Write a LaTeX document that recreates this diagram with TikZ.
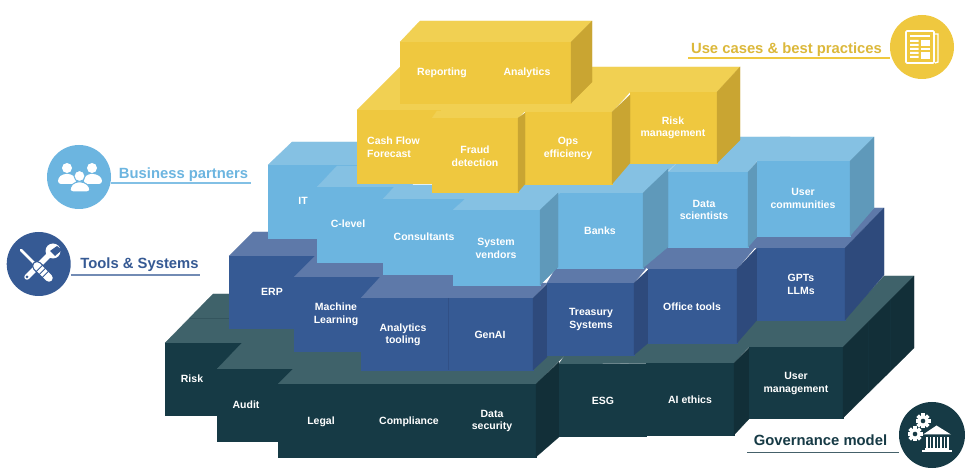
\documentclass[tikz,border=0pt]{standalone}
\usetikzlibrary{calc}
\usepackage{fontspec}
\setmainfont{Liberation Sans}
\definecolor{yf}{HTML}{EFC83F}\definecolor{yt}{HTML}{F1D052}\definecolor{ys}{HTML}{C9A532}
\definecolor{bf}{HTML}{6CB5E0}\definecolor{bt}{HTML}{85C1E3}\definecolor{bs}{HTML}{5F99BA}
\definecolor{tf}{HTML}{365A94}\definecolor{tt}{HTML}{5E79A9}\definecolor{ts}{HTML}{2E4A7C}
\definecolor{gf}{HTML}{163A45}\definecolor{gt}{HTML}{3F626A}\definecolor{gs}{HTML}{122F38}
\tikzset{
  lab/.style={text=white,font=\fontsize{10.5}{12.6}\selectfont\bfseries,align=center,inner sep=0pt},
  head/.style={font=\fontsize{14.8}{16}\selectfont\bfseries,inner sep=0pt},
  disc/.style={circle,minimum size=64pt,inner sep=0pt},
  rule/.style={line width=1.1pt},
  seam/.style={line width=.4pt},
}
% polygon helpers
\newcommand{\face}[2]{\fill[#1,draw=#1,line width=.2pt] #2 -- cycle;}
\newcommand{\front}[5]{\fill[#5,draw=#5,line width=.2pt] (#1,#2) rectangle (#3,#4);}
\newcommand{\sideface}[7]{\fill[#7,draw=#7,line width=.2pt] (#1,#2) -- (#3,#4) -- (#3,#6) -- (#1,#5) -- cycle;}
\newcommand{\gearicon}[3]{%
  \foreach \a in {0,45,...,315}{\fill[white,rotate around={\a:(#1,#2)}] (#1-1.8,#2-#3-2) rectangle (#1+1.8,#2);}
  \fill[white] (#1,#2) circle (#3);
  \fill[gf] (#1,#2) circle (#3*0.42);}
\begin{document}
\begin{tikzpicture}[x=1pt,y=-1pt]
\useasboundingbox (0,0) rectangle (970,470);
\fill[white] (0,0) rectangle (970,470);

% ---------- governance layer
\face{gt}{(165,343) -- (213,294) -- (320,294) -- (300,343)}
\draw[seam,draw=gs!25!gt] (190,318) -- (235,318);
\front{165}{343}{300}{415}{gf}
\face{gt}{(217,369) -- (242,343) -- (345,343) -- (320,369)}
\front{217}{369}{320}{441}{gf}
\face{gt}{(278,384) -- (302,360) -- (322,340) -- (570,340) -- (565,355) -- (536,384)}
\front{278}{384}{536}{457}{gf}
\sideface{536}{384}{559}{362}{457}{437}{gs}
\face{gt}{(559,364) -- (568,350) -- (650,340) -- (737,340) -- (757,318) -- (845,318) -- (884,276) -- (914,276) -- (843,347) -- (749,347) -- (734,363)}
\front{559}{364}{646}{436}{gf}
\front{646}{363}{734}{435}{gf}
\sideface{734}{363}{749}{348}{435}{419}{gs}
\front{749}{347}{843}{418}{gf}
\sideface{843}{347}{914}{276}{418}{348}{gs}
\draw[seam,draw=gs!70!gf] (868,322) -- (868,393) (890,300) -- (890,371);

% ---------- tools layer
\face{tt}{(229,256) -- (253,232) -- (330,232) -- (317,256)}
\front{229}{256}{320}{328}{tf}
\face{tt}{(294,277) -- (315,256) -- (395,256) -- (383,277)}
\front{294}{277}{383}{351}{tf}
\face{tt}{(361,298) -- (383,274) -- (460,274) -- (460,285) -- (547,283) -- (533,298)}
\front{361}{298}{533}{370}{tf}
\sideface{533}{298}{547}{284}{370}{357}{ts}
\draw[ts!60!tf,line width=.3pt] (448,298) -- (448,370);
\face{tt}{(547,283) -- (557,266) -- (648,266) -- (634,283)}
\front{547}{283}{634}{355}{tf}
\sideface{634}{283}{648}{270}{355}{343}{ts}
\face{tt}{(648,269) -- (644,266) -- (668,245) -- (757,245) -- (737,269)}
\front{648}{269}{737}{343}{tf}
\sideface{737}{269}{757}{248}{343}{320}{ts}
\face{tt}{(757,248) -- (747,248) -- (757,236) -- (775,234) -- (850,234) -- (874,208) -- (884,208) -- (845,248)}
\front{757}{248}{845}{320}{tf}
\sideface{845}{248}{884}{208}{320}{275}{ts}

% ---------- business partners layer
\face{bt}{(268,165) -- (292,142) -- (420,142) -- (400,165)}
\front{268}{165}{380}{238}{bf}
\face{bt}{(317,187) -- (337,166) -- (430,166) -- (410,187)}
\front{317}{187}{395}{262}{bf}
\face{bt}{(383,199) -- (396,185) -- (505,185) -- (470,199)}
\front{383}{199}{470}{274}{bf}
\face{bt}{(757,161) -- (780,137) -- (874,137) -- (850,161)}
\face{bt}{(668,172) -- (703,137) -- (790,137) -- (757,161) -- (748,172)}
\front{668}{172}{748}{247}{bf}
\sideface{748}{172}{757}{162}{247}{237}{bs}
\front{757}{161}{850}{236}{bf}
\sideface{850}{161}{874}{137}{236}{208}{bs}
\face{bt}{(557,193) -- (590,160) -- (680,160) -- (643,193)}
\front{557}{193}{643}{268}{bf}
\sideface{643}{193}{668}{169}{268}{247}{bs}
\face{bt}{(453,210) -- (465,199) -- (520,180) -- (575,180) -- (540,210)}
\front{453}{210}{540}{285}{bf}
\sideface{540}{210}{558}{193}{285}{267}{bs}

% ---------- use cases layer
\face{yt}{(357,110) -- (400,67) -- (740,67) -- (717,92) -- (630,92) -- (612,112) -- (432,112) -- (432,110)}
\front{630}{92}{717}{163}{yf}
\sideface{717}{92}{740}{67}{163}{140}{ys}
\front{525}{112}{612}{184}{yf}
\sideface{612}{112}{630}{95}{184}{163}{ys}
\front{357}{110}{440}{183}{yf}
\face{yt}{(432,118) -- (437,111) -- (525,111) -- (518,118)}
\front{432}{118}{518}{192}{yf}
\sideface{518}{118}{525}{113}{192}{184}{ys}
\face{yt}{(400,42) -- (420,21) -- (592,21) -- (571,42)}
\front{400}{42}{571}{103}{yf}
\sideface{571}{42}{592}{21}{103}{82}{ys}

% ---------- block labels
\node[lab] (reporting) at (442,73) {Reporting};
\node[lab] (analytics) at (527,73) {Analytics};
\node[lab,align=left,anchor=west] (cash) at (367,147) {Cash Flow\\Forecast};
\node[lab] (fraud) at (475,156.5) {Fraud\\detection};
\node[lab] (ops) at (568,148.5) {Ops\\efficiency};
\node[lab] (riskm) at (673,128) {Risk\\management};
\node[lab] (it) at (303,201) {IT};
\node[lab] (clevel) at (348,224) {C-level};
\node[lab] (consult) at (424,237) {Consultants};
\node[lab] (sysv) at (496,248.5) {System\\vendors};
\node[lab] (banks) at (600,231) {Banks};
\node[lab] (datas) at (704,210) {Data\\scientists};
\node[lab] (userc) at (803,198.5) {User\\communities};
\node[lab] (erp) at (272,292) {ERP};
\node[lab] (ml) at (336,314.5) {Machine\\Learning};
\node[lab] (atool) at (403,335) {Analytics\\tooling};
\node[lab] (genai) at (490,335) {GenAI};
\node[lab] (treas) at (591,319.5) {Treasury\\Systems};
\node[lab] (office) at (692,307) {Office tools};
\node[lab] (gpts) at (801,284.5) {GPTs\\LLMs};
\node[lab] (risk) at (192,379) {Risk};
\node[lab] (audit) at (246,405) {Audit};
\node[lab] (legal) at (321,422) {Legal};
\node[lab] (compl) at (409,422) {Compliance};
\node[lab] (datasec) at (492,421) {Data\\security};
\node[lab] (esg) at (603,400.5) {ESG};
\node[lab] (aieth) at (690,400) {AI ethics};
\node[lab] (userm) at (796,383.5) {User\\management};

% ---------- legend: business partners
\coordinate (bpend) at (251,183);
\node[disc,fill=bf] (bpdisc) at (79,177) {};
\draw[rule,draw=bf!85!white] (bpdisc.east |- bpend) -- (bpend);
\node[head,text=bf] (bptext) at (183.5,175) {Business partners};
\fill[white] (67,168) circle (5) (92,168) circle (5);
\fill[white,rounded corners=3pt] (58,184) -- (58,178) -- (63,174) -- (71,174) -- (76,178) -- (76,184) -- cycle;
\fill[white,rounded corners=3pt] (84,184) -- (84,178) -- (88,174) -- (96,174) -- (102,178) -- (102,184) -- cycle;
\fill[white,draw=bf,line width=1pt] (79.5,176) circle (5.5);
\fill[white,draw=bf,line width=1pt,rounded corners=3pt] (70,192) -- (70,187) -- (75,182) -- (84,182) -- (90,187) -- (90,192) -- cycle;

% ---------- legend: tools
\coordinate (tsend) at (200,275);
\node[disc,fill=tf] (tsdisc) at (38.7,264) {};
\draw[rule,draw=tf!70!white] (tsdisc.east |- tsend) -- (tsend);
\node[head,text=tf] (tstext) at (139.5,265) {Tools \& Systems};
% wrench
\draw[white,line width=5.5pt,line cap=round] (27,277) -- (50,254);
\fill[white] (53,251) circle (7.5);
\fill[tf] (57,246) -- (50,251) -- (55,256) -- (62,250) -- cycle;
\fill[tf] (27,277) circle (1.5);
% screwdriver
\draw[white,line width=2.5pt,line cap=round] (21,250) -- (36,265);
\draw[tf,line width=10pt,line cap=round] (37,266) -- (49,278);
\draw[white,line width=7.5pt,line cap=round] (37,266) -- (49,278);
\foreach \t in {0.2,0.45,0.7}{\draw[tf,line width=.9pt] ($(37,266)!\t!(49,278)+(-3.5,3.5)$) -- ($(37,266)!\t!(49,278)+(3.5,-3.5)$);}

% ---------- legend: use cases
\coordinate (ucend) at (688,58);
\node[disc,fill=yf] (ucdisc) at (922,47) {};
\draw[rule,draw=yf] (ucend) -- (ucdisc.west |- ucend);
\node[head,text=yf!92!black] (uctext) at (786.5,50) {Use cases \& best practices};
\draw[white,line width=1.6pt,rounded corners=1pt] (906,31) rectangle (934,63);
\draw[white,line width=1.4pt] (935,34) -- (938,34) -- (938,62) -- (935,63);
\fill[white] (910,35) rectangle (930,37.5);
\fill[white] (910,40) rectangle (918.5,42) (910,44) rectangle (918.5,46) (910,48) rectangle (918.5,50);
\fill[white] (921,40) rectangle (930,46);
\fill[white] (921,48) rectangle (930,50);
\fill[white] (910,52) rectangle (918.5,54) (910,56) rectangle (918.5,58);
\fill[white] (921,52) rectangle (930,59);

% ---------- legend: governance
\coordinate (gmend) at (747,452.7);
\node[disc,fill=gf,minimum size=66pt] (gmdisc) at (932,435) {};
\draw[rule,draw=gf!80!white] (gmend) -- (gmdisc.west |- gmend);
\node[head,text=gf] (gmtext) at (820.5,440) {Governance model};
\gearicon{923}{421}{5.5}
\gearicon{915}{434}{5.5}
\fill[white] (936.5,425.5) -- (951,434.5) -- (923,434.5) -- cycle;
\foreach \x in {926,929.5,933,936.5,940,943.5,947}{\fill[white] (\x,437) rectangle (\x+1.8,448);}
\fill[white] (925,448) rectangle (949,450);
\fill[white] (922,450) rectangle (952,452);
\end{tikzpicture}
\end{document}
